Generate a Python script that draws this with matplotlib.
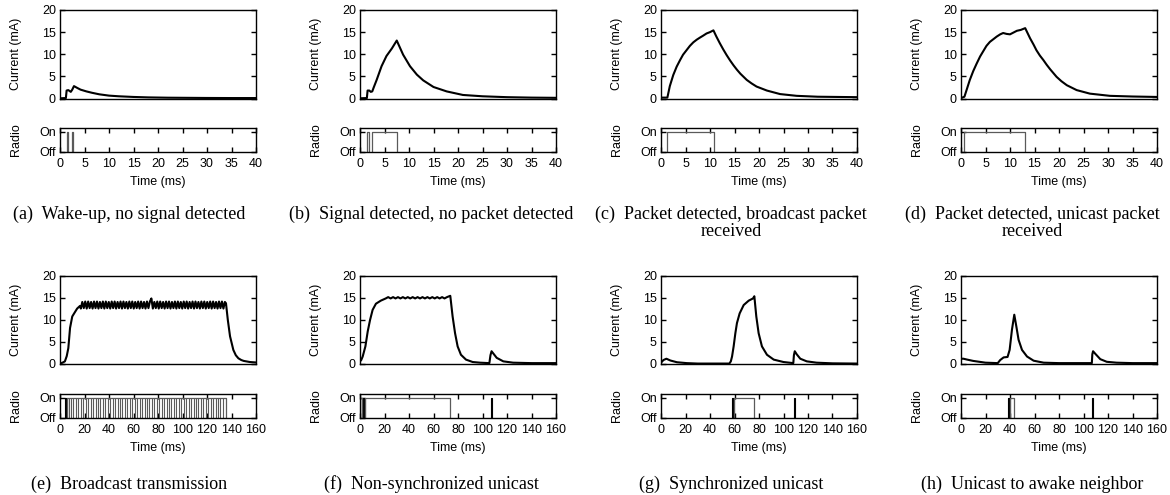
import matplotlib
matplotlib.use("Agg")
import matplotlib.pyplot as plt

plt.rcParams['font.family'] = ['Liberation Sans', 'DejaVu Sans']

# ---------------- data ----------------
# (a) Wake-up, no signal detected
a_t = [0, 1.2, 1.35, 1.7, 2.2, 2.5, 2.85, 3.5, 4.2, 5.4, 6.5, 8.0, 10.0, 12, 15, 18, 22, 26, 30, 35, 40]
a_i = [0.05, 0.1, 1.8, 1.9, 1.5, 2.0, 2.8, 2.4, 2.0, 1.6, 1.3, 0.95, 0.65, 0.5, 0.35, 0.25, 0.18, 0.15, 0.12, 0.1, 0.1]
a_on = [(1.45, 1.65), (2.45, 2.65)]
a_burst = []

# (b) Signal detected, no packet detected
b_t = [0, 1.4, 1.55, 1.9, 2.2, 2.5, 2.8, 3.4, 4.4, 5.4, 6.5, 7.5, 8.8, 10.2, 11.6, 12.9, 15, 17.7, 21, 25, 30, 35, 40]
b_i = [0.05, 0.1, 1.8, 1.8, 1.5, 1.6, 2.5, 4.2, 7.3, 9.6, 11.3, 13.1, 9.9, 7.3, 5.4, 4.1, 2.6, 1.6, 0.8, 0.5, 0.3, 0.2, 0.15]
b_on = [(1.4, 1.8), (2.5, 7.5)]
b_burst = []

# (c) Packet detected, broadcast packet received
c_t = [0, 1.3, 1.8, 2.5, 3.2, 3.9, 4.5, 5.2, 5.9, 6.6, 7.3, 8.0, 8.6, 9.3, 10.0, 10.7, 11.3, 12, 12.7, 13.4, 14.1, 14.8,
       15.5, 16.2, 17.5, 18.5, 19.5, 21.6, 24.3, 27.7, 32, 40]
c_i = [0.2, 0.2, 2.8, 5.3, 7.2, 8.7, 9.9, 10.9, 11.9, 12.7, 13.3, 13.8, 14.2, 14.7, 15.0, 15.4, 14.0, 12.5, 11.1, 9.8,
       8.6, 7.5, 6.5, 5.6, 4.2, 3.4, 2.7, 1.8, 1.0, 0.6, 0.4, 0.3]
c_on = [(1.3, 10.9)]
c_burst = []

# (d) Packet detected, unicast packet received
d_t = [0, 0.7, 1.8, 2.5, 3.2, 3.9, 4.6, 5.2, 5.9, 6.6, 7.3, 8.0, 8.6, 9.3, 10.0, 10.7, 11.4, 12.2, 13.1, 14.1,
       14.8, 15.4, 16.1, 16.8, 17.5, 18.2, 19.5, 20.5, 21.6, 23.6, 26.3, 30.4, 35, 40]
d_i = [0.1, 0.4, 4.2, 6.2, 7.9, 9.5, 10.8, 11.9, 12.8, 13.4, 14.0, 14.5, 14.8, 14.6, 14.5, 14.9, 15.3, 15.5, 15.9,
       13.6, 12.2, 10.9, 9.7, 8.7, 7.6, 6.6, 4.9, 3.9, 3.0, 1.9, 1.1, 0.6, 0.45, 0.35]
d_on = [(0.7, 13.1)]
d_burst = []

# (e) Broadcast transmission
e_t = [0, 2, 4, 5.5, 6.8, 8.2, 10, 12.2, 14, 16.3,
       17.0, 18.2, 19.4, 20.6, 21.8, 23.0, 24.2, 25.4, 26.6, 27.8, 29.0, 30.2, 31.4, 32.6, 33.8,
       35.0, 36.2, 37.4, 38.6, 39.8, 41.0, 42.2, 43.4, 44.6, 45.8, 47.0, 48.2, 49.4, 50.6, 51.8,
       53.0, 54.2, 55.4, 56.6, 57.8, 59.0, 60.2, 61.4, 62.6, 63.8, 65.0, 66.2, 67.4, 68.6, 69.8,
       71.0, 72.2, 73.4, 74.6, 75.8, 77.0, 78.2, 79.4, 80.6, 81.8, 83.0, 84.2, 85.4, 86.6, 87.8,
       89.0, 90.2, 91.4, 92.6, 93.8, 95.0, 96.2, 97.4, 98.6, 99.8, 101.0, 102.2, 103.4, 104.6, 105.8,
       107.0, 108.2, 109.4, 110.6, 111.8, 113.0, 114.2, 115.4, 116.6, 117.8, 119.0, 120.2, 121.4, 122.6,
       123.8, 125.0, 126.2, 127.4, 128.6, 129.8, 131.0, 132.2, 133.4, 134.6,
       135.5, 137, 138.8, 141.5, 143.5, 145.6, 148, 150, 155, 160]
e_i = [0.1, 0.3, 0.6, 1.8, 3.6, 8.2, 10.8, 11.8, 12.6, 13.2,
       12.6, 14.1, 12.7, 14.2, 12.6, 14.2, 12.7, 14.1, 12.6, 14.2, 12.7, 14.2, 12.6, 14.1, 12.7,
       14.2, 12.6, 14.2, 12.7, 14.1, 12.6, 14.2, 12.7, 14.2, 12.6, 14.1, 12.7, 14.2, 12.6, 14.2,
       12.7, 14.1, 12.6, 14.2, 12.7, 14.2, 12.6, 14.1, 12.7, 14.2, 12.6, 14.2, 12.7, 14.1, 12.6,
       14.2, 12.7, 14.2, 14.9, 12.6, 14.1, 12.7, 14.2, 12.6, 14.2, 12.7, 14.1, 12.6, 14.2, 12.7,
       14.2, 12.6, 14.1, 12.7, 14.2, 12.6, 14.2, 12.7, 14.1, 12.6, 14.2, 12.7, 14.2, 12.6, 14.1,
       12.7, 14.2, 12.6, 14.2, 12.7, 14.1, 12.6, 14.2, 12.7, 14.2, 12.6, 14.1, 12.7, 14.2,
       12.6, 14.2, 12.7, 14.1, 12.6, 14.2, 12.7, 14.2, 12.6, 14.1,
       13.8, 10.0, 6.3, 3.2, 2.0, 1.3, 0.9, 0.7, 0.45, 0.35]
e_on = [(6.0, 135.5)]
e_burst = [(4.0, 6.0)]
e_gaps = [7, 9, 11, 13, 15, 17, 19, 21, 23, 25, 27, 29, 31, 33, 35, 37, 39, 41, 43, 45, 47, 49,
          51, 53, 55, 57, 59, 61, 63, 65, 67, 69, 71, 73, 75, 77, 79, 81, 83, 85, 87, 89, 91, 93,
          95, 97, 99, 101, 103, 105, 107, 109, 111, 113, 115, 117, 119, 121, 123, 125, 127, 129,
          131, 133]

# (f) Non-synchronized unicast
f_t = [0, 1, 2.2, 4.4, 6.3, 8.2, 10.3, 13, 17, 21,
       23, 25, 27, 29, 31, 33, 35, 37, 39, 41, 43, 45, 47, 49, 51, 53, 55, 57, 59, 61, 63, 65, 67, 69, 71,
       73.7, 75.6, 77.6, 79.7, 82.4, 86.5, 92, 98, 105.6, 106.5, 107.4, 108.8, 111.6, 117, 125, 140, 160]
f_i = [0.6, 0.9, 1.7, 4.0, 7.4, 10.0, 12.3, 13.7, 14.4, 14.9,
       15.2, 14.9, 15.2, 14.9, 15.2, 14.9, 15.2, 14.9, 15.2, 14.9, 15.2, 14.9, 15.2, 14.9, 15.2, 14.9,
       15.2, 14.9, 15.2, 14.9, 15.2, 14.9, 15.2, 14.9, 15.2,
       15.5, 10.8, 7.0, 4.0, 2.1, 1.0, 0.45, 0.3, 0.2, 2.0, 2.9, 2.4, 1.4, 0.6, 0.3, 0.2, 0.2]
f_on = [(0.3, 1.5), (3.7, 73.5)]
f_burst = [(2.0, 3.8), (106.6, 107.8)]

# (g) Synchronized unicast
g_t = [0, 2, 4.4, 7.6, 13, 21, 30, 40, 50, 55.8, 57, 58, 59.3, 60.7, 62, 64.2, 67.5, 71.6, 75.1, 76.2,
       77.8, 79.7, 82.4, 86.5, 92, 100, 108.0, 108.5, 109.2, 110.8, 113.7, 119, 127, 140, 160]
g_i = [0.3, 0.9, 1.2, 0.8, 0.4, 0.2, 0.1, 0.1, 0.1, 0.1, 0.6, 1.7, 4.0, 7.0, 9.3, 11.5, 13.4, 14.4, 14.9, 15.4,
       10.8, 7.0, 4.0, 2.1, 1.0, 0.45, 0.2, 2.0, 2.9, 2.2, 1.2, 0.6, 0.3, 0.15, 0.1]
g_on = [(59.2, 76.0)]
g_burst = [(57.8, 59.2), (108.3, 109.6)]

# (h) Unicast to awake neighbor
h_t = [0, 2, 5, 10, 20, 30, 32, 34.8, 38, 39.7, 41.6, 43.5, 45.2, 47, 49.8, 53.9, 59.3, 67.5, 80, 100,
       106.8, 107.2, 107.8, 109.7, 113.7, 119, 127, 140, 160]
h_i = [1.2, 1.2, 1.0, 0.7, 0.3, 0.2, 0.9, 1.5, 1.6, 3.2, 7.8, 11.2, 8.5, 5.5, 3.2, 1.7, 0.75, 0.3, 0.2, 0.2,
       0.2, 2.2, 2.9, 2.3, 1.1, 0.5, 0.3, 0.2, 0.2]
h_on = [(39.6, 43.5)]
h_burst = [(38.0, 39.6), (107.0, 108.0)]

captions = ["(a)  Wake-up, no signal detected",
            "(b)  Signal detected, no packet detected",
            "(c)  Packet detected, broadcast packet\nreceived",
            "(d)  Packet detected, unicast packet\nreceived",
            "(e)  Broadcast transmission",
            "(f)  Non-synchronized unicast",
            "(g)  Synchronized unicast",
            "(h)  Unicast to awake neighbor"]

current_yticks = [0, 5, 10, 15, 20]
top_xticks = [0, 5, 10, 15, 20, 25, 30, 35, 40]
bottom_xticks = [0, 20, 40, 60, 80, 100, 120, 140, 160]

panels = [
    (a_t, a_i, a_on, a_burst, [], 40, top_xticks),
    (b_t, b_i, b_on, b_burst, [], 40, top_xticks),
    (c_t, c_i, c_on, c_burst, [], 40, top_xticks),
    (d_t, d_i, d_on, d_burst, [], 40, top_xticks),
    (e_t, e_i, e_on, e_burst, e_gaps, 160, bottom_xticks),
    (f_t, f_i, f_on, f_burst, [], 160, bottom_xticks),
    (g_t, g_i, g_on, g_burst, [], 160, bottom_xticks),
    (h_t, h_i, h_on, h_burst, [], 160, bottom_xticks),
]

# ---------------- layout ----------------
W, H = 1170, 495
fig = plt.figure(figsize=(W / 100, H / 100), dpi=100)

col_left = [60, 360, 661, 961]
ax_w = 196
rows = [  # (cur_top, cur_bottom, radio_top, radio_bottom, caption_y)
    (10, 98.5, 128, 152, 214),
    (276, 364, 394, 418, 484),
]
cap_x = [129, 431, 731, 1032]

FS = 9
SP_LW = 1.0
RADIO_COL = '#5a5a5a'
SERIF = ['Liberation Serif', 'DejaVu Serif']


def frac(l, top, w, bottom):
    return [l / W, 1 - bottom / H, w / W, (bottom - top) / H]


for k, (t, i, on, burst, gaps, xmax, xt) in enumerate(panels):
    r, c = divmod(k, 4)
    ct, cb, rt, rb, cy = rows[r]
    l = col_left[c]

    ax = fig.add_axes(frac(l, ct, ax_w, cb))
    ax.plot(t, i, color='black', lw=1.5)
    ax.set_xlim(0, xmax)
    ax.set_ylim(0, 20)
    ax.set_yticks(current_yticks)
    ax.set_xticks([])
    ax.tick_params(axis='y', direction='in', left=True, right=True, length=3.5,
                   width=SP_LW, labelsize=FS, pad=3)
    ax.set_ylabel('Current (mA)', fontsize=FS)
    ax.yaxis.set_label_coords(-38 / ax_w, 0.5)
    for s in ax.spines.values():
        s.set_linewidth(SP_LW)

    rx = fig.add_axes(frac(l, rt, ax_w, rb))
    for (s0, s1) in on:
        rx.plot([s0, s0, s1, s1], [0, 1, 1, 0], color=RADIO_COL, lw=0.9)
    for (s0, s1) in burst:
        rx.fill_between([s0, s1], 0, 1, color='black', lw=0.8, edgecolor='black')
    if gaps:
        rx.vlines(gaps, 0, 1, color=RADIO_COL, lw=0.8)
    rx.set_xlim(0, xmax)
    rx.set_ylim(0, 1.2)
    rx.set_xticks(xt)
    rx.set_yticks([0, 1])
    rx.set_yticklabels(['Off', 'On'])
    rx.tick_params(direction='in', top=True, bottom=True, left=True, right=True,
                   length=3.5, width=SP_LW, labelsize=FS)
    rx.tick_params(axis='x', pad=4)
    rx.tick_params(axis='y', pad=3)
    rx.set_ylabel('Radio', fontsize=FS)
    rx.yaxis.set_label_coords(-38 / ax_w, 0.5)
    rx.set_xlabel('Time (ms)', fontsize=FS)
    rx.xaxis.set_label_coords(0.5, -1.0)
    for s in rx.spines.values():
        s.set_linewidth(SP_LW)

    if '\n' in captions[k]:
        fig.text(cap_x[c] / W, 1 - (cy - 8) / H, captions[k], ha='center', va='top',
                 family=SERIF, fontsize=13, linespacing=1.0)
    else:
        fig.text(cap_x[c] / W, 1 - cy / H, captions[k], ha='center', va='center',
                 family=SERIF, fontsize=13)

fig.savefig('out.png', dpi=100)
